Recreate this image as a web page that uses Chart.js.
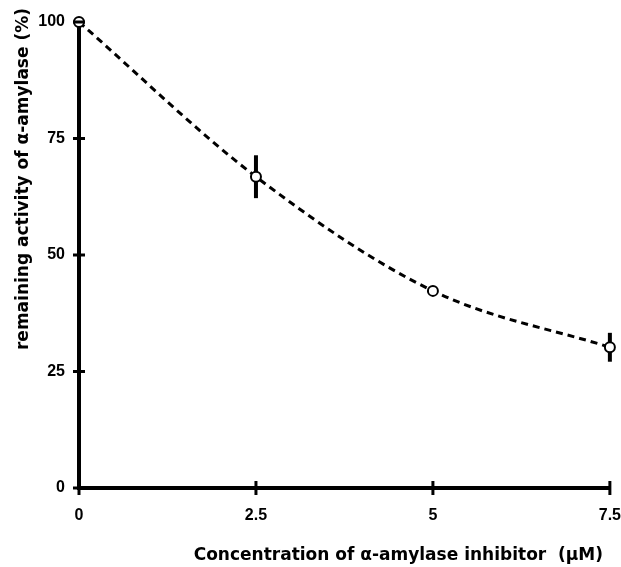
<!DOCTYPE html>
<html>
<head>
<meta charset="utf-8">
<script src="https://cdn.jsdelivr.net/npm/chart.js@4/dist/chart.umd.min.js"></script>
<style>
  html, body { margin: 0; padding: 0; background: #fff; }
  #wrap { width: 621px; height: 567px; }
</style>
</head>
<body>
<div id="wrap"><canvas id="chart" width="621" height="567"></canvas></div>
<script>
// Inhibition curve data
const concentrations = [0, 2.5, 5, 7.5]
const activity = [100, 66.8, 42.3, 30.2]
const activityErr = [0, 4.6, 1, 3.1]
const xTicks = [0, 2.5, 5, 7.5]
const yTicks = [0, 25, 50, 75, 100]

const xTitle = "Concentration of α-amylase inhibitor  (µM)"
const yTitle = "remaining activity of α-amylase (%)"

const TICK_FONT = "'Liberation Sans', Arial, sans-serif"
const TITLE_FONT = "'DejaVu Sans', 'Liberation Sans', sans-serif"

// vertical error bars, drawn under the markers
const errorBars = {
  id: "errorBars",
  beforeDatasetsDraw(chart) {
    const { ctx, scales } = chart
    ctx.save()
    ctx.strokeStyle = "#000"
    ctx.lineWidth = 4
    concentrations.forEach((c, i) => {
      if (!activityErr[i]) return
      const x = scales.x.getPixelForValue(c)
      ctx.beginPath()
      ctx.moveTo(x, scales.y.getPixelForValue(activity[i] + activityErr[i]))
      ctx.lineTo(x, scales.y.getPixelForValue(activity[i] - activityErr[i]))
      ctx.stroke()
    })
    ctx.restore()
  },
}

// tick marks that cross the axis lines
const crossTicks = {
  id: "crossTicks",
  afterDatasetsDraw(chart) {
    const { ctx, scales } = chart
    const x0 = scales.x.getPixelForValue(0)
    const y0 = scales.y.getPixelForValue(0)
    ctx.save()
    ctx.strokeStyle = "#000"
    ctx.lineWidth = 3
    xTicks.forEach((t) => {
      const x = scales.x.getPixelForValue(t)
      ctx.beginPath()
      ctx.moveTo(x, y0 - 7)
      ctx.lineTo(x, y0 + 7)
      ctx.stroke()
    })
    yTicks.forEach((t) => {
      const y = scales.y.getPixelForValue(t)
      ctx.beginPath()
      ctx.moveTo(x0 - 6, y)
      ctx.lineTo(x0 + 6, y)
      ctx.stroke()
    })
    ctx.restore()
  },
}

// axis titles: placed by hand, they don't sit where chart.js would put them
const axisTitles = {
  id: "axisTitles",
  afterDraw(chart) {
    const { ctx } = chart
    ctx.save()
    ctx.font = "bold 17px " + TITLE_FONT
    ctx.fillStyle = "#000"
    ctx.textAlign = "right"
    ctx.textBaseline = "middle"
    ctx.fillText(xTitle, 603, 556)
    ctx.translate(24, 8)
    ctx.rotate(-Math.PI / 2)
    ctx.fillText(yTitle, 0, 0)
    ctx.restore()
  },
}

new Chart(document.getElementById("chart"), {
  type: "line",
  data: {
    datasets: [
      {
        data: concentrations.map((c, i) => ({ x: c, y: activity[i] })),
        borderColor: "#000",
        borderWidth: 3,
        borderDash: [7, 5],
        cubicInterpolationMode: "monotone",
        pointRadius: 5,
        pointBorderWidth: 2,
        pointBackgroundColor: "#fff",
        pointBorderColor: "#000",
        clip: false,
      },
    ],
  },
  options: {
    responsive: false,
    animation: false,
    layout: { padding: { left: 0, top: 22, right: 0, bottom: 0 } },
    plugins: { legend: { display: false }, tooltip: { enabled: false } },
    scales: {
      x: {
        type: "linear",
        min: 0,
        max: 7.5,
        afterBuildTicks: (scale) => { scale.ticks = xTicks.map((v) => ({ value: v })) },
        afterFit: (scale) => { scale.height = 79 },
        grid: { display: false, drawTicks: true, tickLength: 18 },
        border: { display: true, color: "#000", width: 4 },
        ticks: { color: "#000", padding: 0, font: { family: TICK_FONT, size: 16, weight: "bold" }, maxRotation: 0 },
      },
      y: {
        min: 0,
        max: 100,
        afterBuildTicks: (scale) => { scale.ticks = yTicks.map((v) => ({ value: v })) },
        afterFit: (scale) => { scale.width = 79 },
        grid: { display: false, drawTicks: true, tickLength: 14 },
        border: { display: true, color: "#000", width: 4 },
        ticks: { color: "#000", padding: 0, font: { family: TICK_FONT, size: 16, weight: "bold" } },
      },
    },
  },
  plugins: [errorBars, crossTicks, axisTitles],
})
</script>
</body>
</html>
